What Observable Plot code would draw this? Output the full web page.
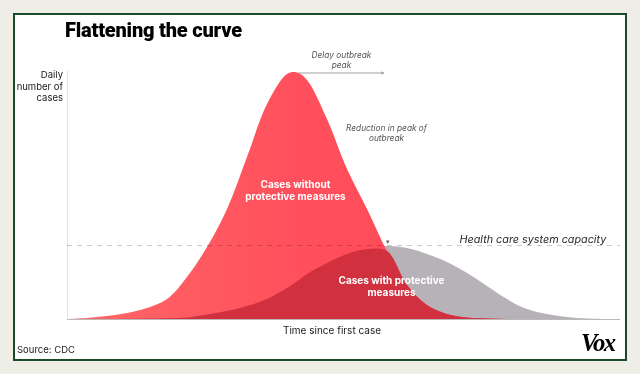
<!DOCTYPE html>
<html><head><meta charset="utf-8">
<script src="https://cdn.jsdelivr.net/npm/d3@7"></script>
<script src="https://cdn.jsdelivr.net/npm/@observablehq/plot@0.6"></script>
<style>
html,body{margin:0;padding:0;width:640px;height:374px;background:#eeeee7;overflow:hidden;font-family:Inter,"Noto Sans",sans-serif;}
#frame{position:absolute;left:13px;top:13px;width:614px;height:348px;box-sizing:border-box;border:2.5px solid #1b4a28;background:#fff;}
#chart{position:absolute;left:0;top:0;}
.t{position:absolute;white-space:nowrap;color:#1a1a1a;}
</style></head><body>
<div id="frame"></div>
<div id="chart"></div>
<div class="t" style="left:65px;top:18px;font:900 20px Roboto,sans-serif;letter-spacing:-0.2px;color:#000">Flattening the curve</div>
<div class="t" style="right:577px;top:69px;text-align:right;font-size:9.5px;line-height:11.7px">Daily<br>number of<br>cases</div>
<div class="t" style="left:332px;top:324px;transform:translateX(-50%);font-size:10px">Time since first case</div>
<div class="t" style="left:17px;top:344px;font-size:9.5px">Source: CDC</div>
<div class="t" style="left:581px;top:328px;font:italic 900 26px 'Liberation Serif',serif;letter-spacing:-1.8px;color:#000;transform:scaleX(0.95);transform-origin:left">Vox</div>
<script>
// time since first case (arbitrary day units)
const days = [0,4,8,12,16,20,24,28,32,36,40,44,46,48,52,56,60,64,68,72,76,80,84,88,92,96,100,104,108];
// daily cases without protective measures (peak = ~100)
const withoutMeasures = [0,0.4,1.2,2.4,4.4,8,16.9,28.9,44.2,65.1,86.3,98.4,99,96,80.3,60.2,44.2,27.3,13.7,5.6,2,0.6,0.2,0,0,0,0,0,0];
// daily cases with protective measures
const withMeasures = [0,0,0,0.1,0.2,0.3,0.6,1.8,3.2,5.2,8,12.4,15.2,18.1,22.5,26.1,28.1,29.3,28.5,26.1,22.9,18.5,13.3,8,4,2,0.8,0.2,0];
// health care system capacity
const capacity = [29.7];

const red = days.map((t,i)=>({t, v: withoutMeasures[i]}));
const gray = days.map((t,i)=>({t, v: withMeasures[i]}));
const overlap = days.map((t,i)=>({t, v: Math.min(withoutMeasures[i], withMeasures[i])}));
const redPeak = red[d3.maxIndex(red, d=>d.v)];
const grayPeak = gray[d3.maxIndex(gray, d=>d.v)];

const defs = () => {
  const g = d3.create("svg:defs");
  const lg = g.append("linearGradient").attr("id","redGrad").attr("x1","0").attr("x2","1").attr("y1","0").attr("y2","0");
  lg.append("stop").attr("offset","0").attr("stop-color","#ff6866");
  lg.append("stop").attr("offset","0.45").attr("stop-color","#ff4e5c");
  lg.append("stop").attr("offset","1").attr("stop-color","#ff4959");
  return g.node();
};

const chart = Plot.plot({
  width: 640, height: 374,
  marginLeft: 67, marginRight: 20, marginTop: 70, marginBottom: 55,
  x: {domain: [0, 110.6], axis: null},
  y: {domain: [0, 100], axis: null},
  style: {background: "transparent", overflow: "visible", fontFamily: "Inter, 'Noto Sans', sans-serif"},
  marks: [
    defs,
    Plot.ruleX([0], {y1: 0, y2: 100, stroke: "#e3e3e3"}),
    Plot.areaY(gray, {x: "t", y: "v", fill: "#b7b2b8", curve: "catmull-rom"}),
    Plot.areaY(red, {x: "t", y: "v", fill: "url(#redGrad)", curve: "catmull-rom"}),
    Plot.areaY(overlap, {x: "t", y: "v", fill: "#d1303f", curve: "catmull-rom"}),
    Plot.ruleY(capacity, {stroke: "#c9c9c9", strokeDasharray: "5,5", mixBlendMode: "multiply"}),
    Plot.ruleY([0], {stroke: "#b9b9b9"}),
    Plot.arrow([redPeak], {x1: "t", y1: "v", x2: grayPeak.t - 0.8, y2: "v", stroke: "#888", strokeWidth: 0.8, headLength: 4, insetStart: 1}),
    Plot.text([grayPeak], {x: "t", y: capacity[0], text: () => "▾", dy: -4, fontSize: 7, fill: "#666"}),
    Plot.text(["Delay outbreak\npeak"], {x: 54.8, y: 104.4, text: d => d, fontSize: 8.3, fontStyle: "italic", fill: "#555", lineHeight: 1.25}),
    Plot.text(["Reduction in peak of\noutbreak"], {x: 63.8, y: 75.1, text: d => d, fontSize: 8.3, fontStyle: "italic", fill: "#555", lineHeight: 1.25}),
    Plot.text(["Health care system capacity"], {x: 78.4, y: 32.1, text: d => d, fontSize: 10.8, fontStyle: "italic", fill: "#2a2a2a", textAnchor: "start"}),
    Plot.text(["Cases without\nprotective measures"], {x: 45.6, y: 52, text: d => d, fontSize: 10, fontWeight: "bold", fill: "white", lineHeight: 1.2}),
    Plot.text(["Cases with protective\nmeasures"], {x: 64.8, y: 13.2, text: d => d, fontSize: 10, fontWeight: "bold", fill: "white", lineHeight: 1.2})
  ]
});
document.getElementById("chart").appendChild(chart);
</script>
</body></html>
